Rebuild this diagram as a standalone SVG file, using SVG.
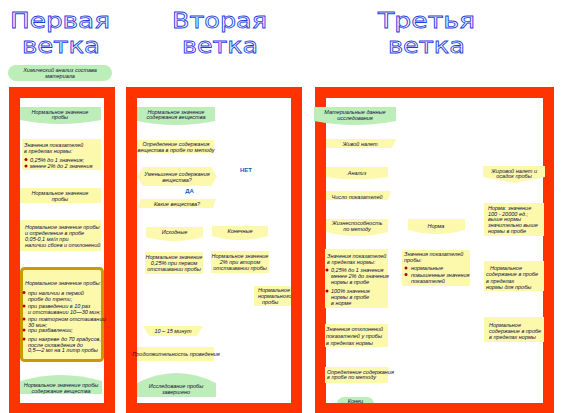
<svg xmlns="http://www.w3.org/2000/svg" width="568" height="413" viewBox="0 0 568 413">
<style>
.h{font-family:"DejaVu Sans",Verdana,sans-serif;font-size:21px;fill:#fff;stroke:#1f3ee0;stroke-width:0.8;text-anchor:middle}
.t{font-family:"Liberation Sans",Arial,sans-serif;font-size:5.5px;font-style:italic;fill:#10103a}
.c{text-anchor:middle}
.y{fill:#fcf8ac}
.g{fill:#bdeeb9}
.fr{fill:#fff;stroke:#ff3300;stroke-width:11}
.b{fill:#b00000}
.bl{font-family:"Liberation Sans",Arial,sans-serif;font-size:6px;font-weight:bold;fill:#1060b8;text-anchor:middle}
</style>
<defs>
<clipPath id="clip2"><rect x="137" y="98" width="154" height="305"/></clipPath>
<clipPath id="clip3"><rect x="300" y="98" width="260" height="305"/></clipPath>
</defs>
<rect width="568" height="413" fill="#fff"/>
<g id="headers">
<text class="h" x="60" y="27.5" textLength="100" lengthAdjust="spacingAndGlyphs">Первая</text>
<text class="h" x="61" y="52.5" textLength="78" lengthAdjust="spacingAndGlyphs">ветка</text>
<text class="h" x="219.5" y="27.5" textLength="95" lengthAdjust="spacingAndGlyphs">Вторая</text>
<text class="h" x="220" y="52.5" textLength="76" lengthAdjust="spacingAndGlyphs">ветка</text>
<text class="h" x="426.5" y="27.5" textLength="97" lengthAdjust="spacingAndGlyphs">Третья</text>
<text class="h" x="426.5" y="52.5" textLength="77" lengthAdjust="spacingAndGlyphs">ветка</text>
</g>
<g id="frames">
<rect class="fr" x="14.5" y="92.5" width="95" height="316"/>
<rect class="fr" x="131.5" y="92.5" width="165" height="316"/>
<rect class="fr" x="320.5" y="92.5" width="228" height="316"/>
</g>
<g id="connectors"></g>
<g id="start">
<rect class="g" x="8" y="65" width="104" height="16" rx="8"/>
<text class="t c" x="60" y="72">Химический анализ состава</text>
<text class="t c" x="60" y="78">материала</text>
</g>
<g id="c1n1">
<path class="g" d="M20,107H101V120Q60,128 20,120Z"/>
<text class="t c" x="60" y="113.5">Нормальное значение</text>
<text class="t c" x="60" y="119">пробы</text>
</g>
<g id="c1n2">
<rect class="y" x="22" y="139" width="79" height="31"/>
<text class="t" x="24" y="147">Значения показателей</text>
<text class="t" x="24" y="152.5">в пределах нормы:</text>
<circle class="b" cx="26" cy="159.5" r="1.5"/>
<text class="t" x="30" y="161.5">0,25% до 1 значения;</text>
<circle class="b" cx="26" cy="166" r="1.5"/>
<text class="t" x="30" y="168">менее 2% до 2 значения</text>
</g>
<g id="c1n3">
<rect class="y" x="20" y="188" width="81" height="15"/>
<text class="t c" x="60" y="195">Нормальное значение</text>
<text class="t c" x="60" y="201">пробы</text>
</g>
<g id="c1n4">
<rect class="y" x="20" y="220" width="81" height="31"/>
<text class="t" x="25" y="229">Нормальное значение пробы</text>
<text class="t" x="25" y="235">и определение в пробе</text>
<text class="t" x="25" y="241">0,05-0,1 мг/л при</text>
<text class="t" x="25" y="246.5">наличии сбоев и отклонений</text>
</g>
<g id="c1n5">
<rect x="21.5" y="268.5" width="81" height="92" rx="3" fill="#fcf8ac" stroke="#cc9900" stroke-width="3"/>
<text class="t" x="25" y="285">Нормальное значение пробы:</text>
<circle class="b" cx="24" cy="292.5" r="1.5"/>
<text class="t" x="28" y="294.5">при наличии в первой</text>
<text class="t" x="28" y="300.5">пробе до трети;</text>
<circle class="b" cx="24" cy="306" r="1.5"/>
<text class="t" x="28" y="308">при разведении в 10 раз</text>
<text class="t" x="28" y="313.5">и отстаивании 10—30 мин;</text>
<circle class="b" cx="24" cy="319" r="1.5"/>
<text class="t" x="28" y="321">при повторном отстаивании</text>
<text class="t" x="28" y="326.5">30 мин;</text>
<circle class="b" cx="24" cy="330" r="1.5"/>
<text class="t" x="28" y="332">при разбавлении;</text>
<circle class="b" cx="24" cy="339" r="1.5"/>
<text class="t" x="28" y="341">при нагреве до 70 градусов,</text>
<text class="t" x="28" y="346.5">после охлаждения до</text>
<text class="t" x="28" y="352">0,5—2 мл на 1 литр пробы</text>
</g>
<g id="c1n6">
<path class="g" d="M20,394V381Q61,369 102,381V394Z"/>
<text class="t c" x="61" y="387">Нормальное значение пробы</text>
<text class="t c" x="61" y="392.5">содержание вещества</text>
</g>
<g id="c2n1">
<path class="g" d="M137,107H215V121Q176,129 137,121Z"/>
<text class="t c" x="176" y="113.5">Нормальное значение</text>
<text class="t c" x="176" y="119">содержания вещества</text>
</g>
<g id="c2n2">
<rect class="y" x="137" y="140" width="77" height="13"/>
<text class="t c" x="176" y="146">Определение содержания</text>
<text class="t c" x="176" y="151.5">вещества в пробе по методу</text>
</g>
<g id="c2n3">
<path class="y" d="M137,176.5L143,167H211L217,176.5L211,186H143Z"/>
<text class="t c" x="177" y="175.5">Уменьшение содержания</text>
<text class="t c" x="177" y="181.5">вещества?</text>
</g>
<text class="bl" x="246" y="172">НЕТ</text>
<text class="bl" x="189.5" y="193">ДА</text>
<g id="c2n4">
<path class="y" d="M141,199H216L213,208H138Z"/>
<text class="t c" x="177" y="205.5">Какие вещества?</text>
</g>
<g id="c2n5">
<path class="y" d="M146,227H203V237Q174.5,245 146,237Z"/>
<text class="t c" x="174.5" y="234">Исходные</text>
</g>
<g id="c2n6">
<path class="y" d="M212,226H268V236Q240,244 212,236Z"/>
<text class="t c" x="240" y="233">Конечные</text>
</g>
<g id="c2n7">
<rect class="y" x="145" y="252" width="58" height="22"/>
<text class="t c" x="174" y="258.5">Нормальное значение</text>
<text class="t c" x="174" y="264.5">0,25% при первом</text>
<text class="t c" x="174" y="271">отстаивании пробы</text>
</g>
<g id="c2n8">
<rect class="y" x="211" y="251" width="58" height="22"/>
<text class="t c" x="240" y="257.5">Нормальное значение</text>
<text class="t c" x="240" y="263.5">2% при втором</text>
<text class="t c" x="240" y="270">отстаивании пробы</text>
</g>
<g id="c2n9" clip-path="url(#clip2)">
<rect class="y" x="254" y="286" width="50" height="20"/>
<text class="t" x="258" y="292">Нормальное значение</text>
<text class="t" x="258" y="298">нормального</text>
<text class="t" x="262" y="303.5">пробы</text>
</g>
<g id="c2n10">
<path class="y" d="M143,326H203L197,336H149Z"/>
<text class="t c" x="173" y="332.5">10 – 15 минут</text>
</g>
<g id="c2n11">
<rect class="y" x="137" y="347" width="77" height="14"/>
<text class="t c" x="176" y="356">Продолжительность проведения</text>
</g>
<g id="c2n12">
<path class="g" d="M137,397V383Q176,363 216,383V397Z"/>
<text class="t c" x="176" y="388">Исследование пробы</text>
<text class="t c" x="176" y="393.5">завершено</text>
</g>
<g id="c3n1">
<path class="g" d="M314,107H396V121Q355,129 314,121Z"/>
<text class="t c" x="355" y="114">Материальные данные</text>
<text class="t c" x="355" y="119.5">исследования</text>
</g>
<g id="c3n2">
<path class="y" d="M326,139H396L392,148H326Z"/>
<text class="t c" x="360" y="145.5">Живой налет</text>
</g>
<g id="c3n3">
<path class="y" d="M326,167H388V177Q357,182 326,177Z"/>
<text class="t c" x="357" y="174.5">Анализ</text>
</g>
<g id="c3n4">
<path class="y" d="M326,191H391L388,200H326Z"/>
<text class="t c" x="357" y="198.5">Число показателей</text>
</g>
<g id="c3n5">
<path class="y" d="M326,219H388V232Q357,240 326,232Z"/>
<text class="t c" x="357" y="225">Жизнеспособность</text>
<text class="t c" x="357" y="230.5">по методу</text>
</g>
<g id="c3n6">
<path class="y" d="M408,219H465V230Q436,238 408,230Z"/>
<text class="t c" x="436" y="227.5">Норма</text>
</g>
<g id="c3n7">
<path class="y" d="M483,166H545V177L514,183L483,177Z"/>
<text class="t c" x="514" y="172.5">Жировой налет и</text>
<text class="t c" x="514" y="178">осадок пробы</text>
</g>
<g id="c3n8">
<rect class="y" x="484" y="203" width="60" height="33"/>
<text class="t" x="488" y="210">Норма: значение</text>
<text class="t" x="488" y="215.7">100 - 20000 ед.;</text>
<text class="t" x="488" y="221.3">выше нормы</text>
<text class="t" x="488" y="227">значительно выше</text>
<text class="t" x="488" y="232.6">нормы в пробе</text>
</g>
<g id="c3n9">
<rect class="y" x="325" y="249" width="63" height="59"/>
<text class="t" x="327" y="258">Значения показателей</text>
<text class="t" x="327" y="264">в пределах нормы:</text>
<circle class="b" cx="327" cy="270" r="1.5"/>
<text class="t" x="331" y="272">0,25% до 1 значения</text>
<text class="t" x="331" y="278">менее 2% до значения</text>
<text class="t" x="331" y="284">нормы в пробе</text>
<circle class="b" cx="327" cy="291" r="1.5"/>
<text class="t" x="331" y="293">100% значения</text>
<text class="t" x="331" y="299">нормы в пробе</text>
<text class="t" x="331" y="305">в норме</text>
</g>
<g id="c3n10">
<rect class="y" x="402" y="250" width="68" height="36"/>
<text class="t" x="404" y="256">Значения показателей</text>
<text class="t" x="404" y="261.5">пробы:</text>
<circle class="b" cx="406" cy="268" r="1.5"/>
<text class="t" x="411" y="270">нормальные</text>
<circle class="b" cx="406" cy="274.5" r="1.5"/>
<text class="t" x="411" y="276.5">повышенные значения</text>
<text class="t" x="411" y="283">показателей</text>
</g>
<g id="c3n11">
<rect class="y" x="325" y="324" width="63" height="23"/>
<text class="t" x="326" y="331">Значения отклонений</text>
<text class="t" x="326" y="337.5">показателей у пробы</text>
<text class="t" x="326" y="344.5">в пределах нормы</text>
</g>
<g id="c3n12">
<rect class="y" x="325" y="367" width="63" height="16"/>
<text class="t" x="327" y="373.5">Определение содержания</text>
<text class="t" x="327" y="379">в пробе по методу</text>
</g>
<g id="c3n13" clip-path="url(#clip3)">
<rect class="g" x="337" y="397" width="37" height="14" rx="7"/>
<text class="t c" x="355.5" y="403">Конец</text>
</g>
<g id="c3n14">
<rect class="y" x="484" y="261" width="60" height="30"/>
<text class="t" x="490" y="270">Нормальное</text>
<text class="t" x="486" y="276">содержание в пробе</text>
<text class="t" x="486" y="282.5">в пределах</text>
<text class="t" x="486" y="288.5">нормы для пробы</text>
</g>
<g id="c3n15">
<rect class="y" x="484" y="317" width="60" height="25"/>
<text class="t" x="489" y="327">Нормальное</text>
<text class="t" x="489" y="332.5">содержание в пробе</text>
<text class="t" x="489" y="338.5">в пределах нормы</text>
</g>
</svg>
